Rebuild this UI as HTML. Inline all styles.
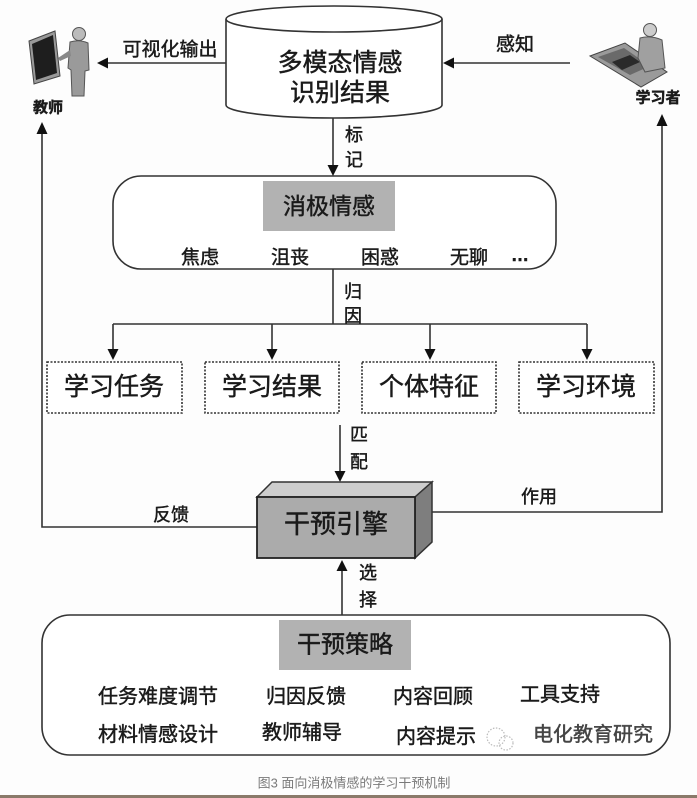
<!DOCTYPE html>
<html>
<head>
<meta charset="utf-8">
<style>
  html,body{margin:0;padding:0;background:#ffffff;}
  svg{display:block;}
  text{font-family:"Liberation Sans","Noto Sans CJK SC",sans-serif;fill:#1a1a1a;stroke:#1a1a1a;stroke-width:0.45;}
</style>
</head>
<body>
<svg width="697" height="798" viewBox="0 0 697 798" xmlns="http://www.w3.org/2000/svg">
  <rect x="0" y="0" width="697" height="798" fill="#fdfdfd"/>
  <g stroke="#333" stroke-width="1.6" fill="none">
    <!-- cylinder -->
    <path d="M226,19 L226,105 A108,13 0 0 0 442,105 L442,19" fill="#fff"/>
    <ellipse cx="334" cy="19" rx="108" ry="13" fill="#fff"/>
    <!-- arrows top -->
    <line x1="226" y1="63" x2="106" y2="63"/>
    <line x1="570" y1="63" x2="452" y2="63"/>
    <line x1="333" y1="118" x2="333" y2="166"/>
    <!-- negative emotion box -->
    <rect x="113" y="176" width="443" height="93" rx="28" ry="28" fill="#fff"/>
    <line x1="333" y1="269" x2="333" y2="324"/>
    <line x1="113" y1="324" x2="587" y2="324"/>
    <line x1="113" y1="324" x2="113" y2="350"/>
    <line x1="272" y1="324" x2="272" y2="350"/>
    <line x1="430" y1="324" x2="430" y2="350"/>
    <line x1="587" y1="324" x2="587" y2="350"/>
    <!-- match arrow -->
    <line x1="340" y1="425" x2="340" y2="472"/>
    <!-- feedback loop -->
    <polyline points="257,527 42,527 42,133"/>
    <polyline points="432,512 662,512 662,125"/>
    <!-- select arrow -->
    <line x1="342" y1="615" x2="342" y2="570"/>
    <!-- bottom box -->
    <rect x="42" y="615" width="628" height="140" rx="28" ry="28" fill="#fff"/>
  </g>
  <!-- dashed boxes -->
  <g stroke="#333" stroke-width="1.6" fill="#fff" stroke-dasharray="2,1.5">
    <rect x="47" y="362" width="135" height="51"/>
    <rect x="205" y="362" width="134" height="51"/>
    <rect x="362" y="362" width="134" height="51"/>
    <rect x="519" y="362" width="135" height="51"/>
  </g>
  <!-- arrowheads -->
  <g fill="#111">
    <polygon points="97,63 108,57.5 108,68.5"/>
    <polygon points="443,63 454,57.5 454,68.5"/>
    <polygon points="333,176 327.5,165 338.5,165"/>
    <polygon points="113,360 107.5,349 118.5,349"/>
    <polygon points="272,360 266.5,349 277.5,349"/>
    <polygon points="430,360 424.5,349 435.5,349"/>
    <polygon points="587,360 581.5,349 592.5,349"/>
    <polygon points="340,482 334.5,471 345.5,471"/>
    <polygon points="342,560 336.5,571 347.5,571"/>
    <polygon points="42,122 36.5,134 47.5,134"/>
    <polygon points="662,114 656.5,126 667.5,126"/>
  </g>
  <!-- gray label rects -->
  <rect x="263" y="181" width="132" height="50" fill="#b2b2b2"/>
  <rect x="279" y="620" width="132" height="50" fill="#b2b2b2"/>
  <!-- engine 3D box -->
  <polygon points="257,497 272,482 432,482 415,497" fill="#cdcdcd" stroke="#333" stroke-width="1.5"/>
  <polygon points="415,497 432,482 432,542 415,558" fill="#7e7e7e" stroke="#333" stroke-width="1.5"/>
  <rect x="257" y="497" width="158" height="61" fill="#ababab" stroke="#222" stroke-width="1.8"/>

  <!-- teacher icon -->
  <g>
    <polygon points="29,41 55,31 60,76 34,84" fill="#999" stroke="#444" stroke-width="1"/>
    <polygon points="32,44 53,35 57,73 36,80" fill="#1e1e1e"/>
    <circle cx="79" cy="34" r="6.5" fill="#bbb" stroke="#555" stroke-width="1"/>
    <path d="M70,42 Q79,39 88,43 L89,70 L85,71 L84,96 L72,96 L71,70 L68,68 Z" fill="#9a9a9a" stroke="#555" stroke-width="1"/>
    <path d="M70,50 L58,58 L60,61 L71,56 Z" fill="#888"/>
  </g>
  <!-- learner icon -->
  <g>
    <polygon points="590,56 625,43 667,72 641,87" fill="#9a9a9a" stroke="#444" stroke-width="1"/>
    <polygon points="598,57 624,48 650,66 630,75" fill="#6a6a6a"/>
    <path d="M612,62 L630,55 L640,62 L622,70 Z" fill="#2a2a2a"/>
    <circle cx="650" cy="30" r="6.5" fill="#ccc" stroke="#555" stroke-width="1"/>
    <path d="M640,38 Q651,35 662,40 L665,68 L645,72 L638,58 Z" fill="#a0a0a0" stroke="#555" stroke-width="1"/>
  </g>

  <!-- texts -->
  <g text-anchor="middle" dominant-baseline="central">
    <text x="340" y="63" font-size="25">多模态情感</text>
    <text x="340" y="93" font-size="25">识别结果</text>
    <text x="170" y="50" font-size="19">可视化输出</text>
    <text x="515" y="45" font-size="19">感知</text>
    <text x="48" y="108" font-size="15" font-weight="bold">教师</text>
    <text x="658" y="98" font-size="15" font-weight="bold">学习者</text>
    <text x="354" y="135" font-size="18">标</text>
    <text x="354" y="160" font-size="18">记</text>

    <text x="329" y="206" font-size="23">消极情感</text>
    <text x="200" y="258" font-size="19">焦虑</text>
    <text x="290" y="258" font-size="19">沮丧</text>
    <text x="380" y="258" font-size="19">困惑</text>
    <text x="469" y="258" font-size="19">无聊</text>
    <text x="520" y="255" font-size="18" font-weight="bold">…</text>
    <text x="353" y="292" font-size="18">归</text>
    <text x="353" y="316" font-size="18">因</text>

    <text x="114" y="387" font-size="25">学习任务</text>
    <text x="272" y="387" font-size="25">学习结果</text>
    <text x="429" y="387" font-size="25">个体特征</text>
    <text x="586" y="387" font-size="25">学习环境</text>

    <text x="359" y="435" font-size="18">匹</text>
    <text x="359" y="462" font-size="18">配</text>
    <text x="336" y="524" font-size="26">干预引擎</text>
    <text x="171" y="515" font-size="18">反馈</text>
    <text x="539" y="497" font-size="18">作用</text>
    <text x="368" y="573" font-size="18">选</text>
    <text x="368" y="600" font-size="18">择</text>

    <text x="345" y="645" font-size="24">干预策略</text>
    <text x="158" y="697" font-size="20">任务难度调节</text>
    <text x="306" y="697" font-size="20">归因反馈</text>
    <text x="433" y="697" font-size="20">内容回顾</text>
    <text x="560" y="695" font-size="20">工具支持</text>
    <text x="158" y="735" font-size="20">材料情感设计</text>
    <text x="302" y="733" font-size="20">教师辅导</text>
    <text x="436" y="737" font-size="20">内容提示</text>
    <text x="593" y="735" font-size="20" style="fill:#444;stroke:#444">电化教育研究</text>

    <text x="354" y="783" font-size="13" style="fill:#7a7a7a;stroke:none">图3 面向消极情感的学习干预机制</text>
  </g>
  <!-- wechat-ish watermark icon -->
  <g fill="none" stroke="#bbb" stroke-width="1.2" stroke-dasharray="1.5,1.5">
    <circle cx="496" cy="737" r="9"/>
    <circle cx="506" cy="743" r="7"/>
  </g>
  <rect x="0" y="795" width="697" height="3" fill="#8a7a6a"/>
</svg>
</body>
</html>
